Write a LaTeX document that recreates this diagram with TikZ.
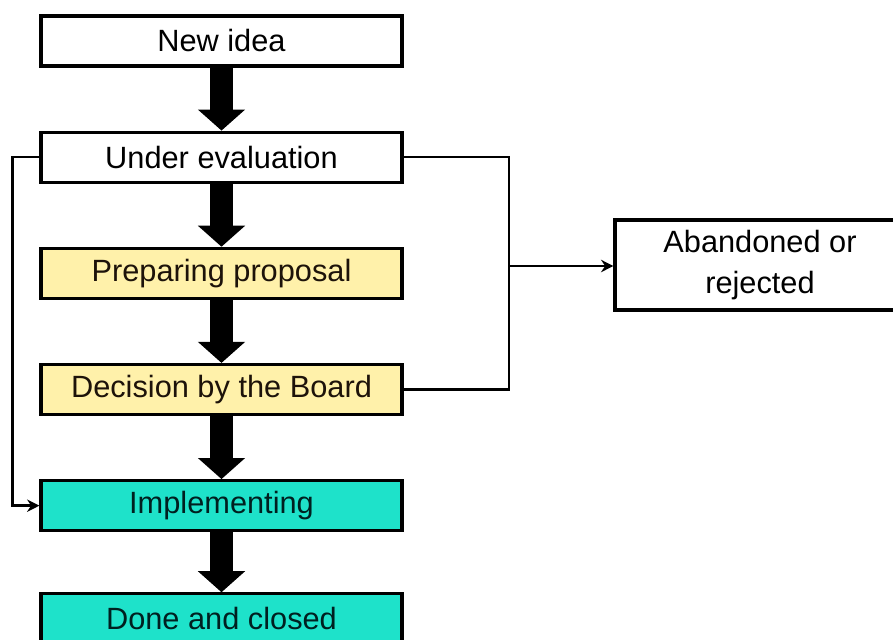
\documentclass[tikz,border=0pt]{standalone}
\usepackage{fontspec}
\setmainfont{Liberation Sans}
\usepackage{tikz}
\usetikzlibrary{arrows.meta,positioning,calc}
\definecolor{propyellow}{RGB}{255,241,170}
\definecolor{impteal}{RGB}{30,226,202}
\tikzset{
  box/.style={draw, line width=1.8pt, align=center, fill=white, minimum width=7.22cm, minimum height=1.0cm,
    inner sep=0pt, font=\fontsize{17.5}{23}\selectfont},
  plain/.style={box},
  prep/.style={box, fill=propyellow, text=black!85!brown},
  impl/.style={box, fill=impteal, text=black!75!teal},
  bigarrow/.style={-{Triangle[width=0.92cm,length=0.42cm]}, line width=0.46cm},
  link/.style={line width=1.4pt},
  linkarrow/.style={link, -{Stealth[length=7pt,width=7pt]}},
}

\begin{document}
\begin{tikzpicture}[node distance=1.26cm]
  \useasboundingbox (0,0) rectangle (17.86,-12.78);
  \clip (0,0) rectangle (17.86,-12.78);

  \node[plain] (idea) at (4.43,-0.82) {New idea};
  \node[plain, below=of idea] (eval) {Under evaluation};
  \node[prep, below=of eval] (proposal) {Preparing proposal};
  \node[prep, below=of proposal] (board) {Decision by the Board};
  \node[impl, below=of board] (implementing) {Implementing};
  \node[impl, below=1.2cm of implementing] (done) {Done and closed};
  \node[box, minimum width=5.8cm, minimum height=1.8cm] (abandoned) at (15.2,-5.3) {Abandoned or\\rejected};

  \draw[bigarrow] (idea) -- (eval);
  \draw[bigarrow] (eval) -- (proposal);
  \draw[bigarrow] (proposal) -- (board);
  \draw[bigarrow] (board) -- (implementing);
  \draw[bigarrow] (implementing) -- (done);

  \coordinate (split) at (10.18,-5.32);
  \draw[link] (eval.east) -| (split) |- (board.east);
  \draw[linkarrow] (split) -- (split -| abandoned.west);
  \draw[linkarrow] (eval.west) -- ++(-0.54,0) |- (implementing.west);
\end{tikzpicture}
\end{document}
